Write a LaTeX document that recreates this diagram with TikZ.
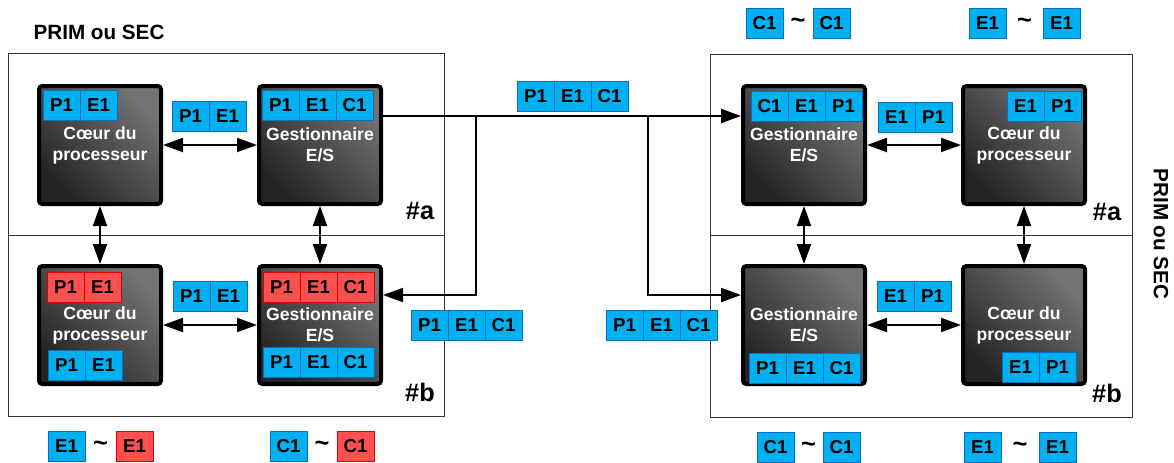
\documentclass[tikz,border=0pt]{standalone}
\usepackage{fontspec}
\setmainfont{Liberation Sans}
\usetikzlibrary{arrows.meta,positioning,calc}
\definecolor{cellblue}{HTML}{00B0F0}
\definecolor{cellblueline}{HTML}{0B6FBF}
\definecolor{cellred}{HTML}{FF5050}
\definecolor{cellredline}{HTML}{E00000}
% a row of adjacent cells: name, style, left x, centre y, labels
\newcommand{\cellrow}[5]{%
  \foreach \lbl [count=\i] in {#5}
    \node[#2] (#1-\i) at ({#3+37*\i-18.5},#4) {\lbl};}

\begin{document}
\begin{tikzpicture}[
    x=0.75pt, y=-0.75pt,
    panel/.style={draw=black!80, line width=0.75pt},
    unit/.style={rectangle, draw=black, line width=3pt, rounded corners=2.5pt,
                 minimum width=91.5pt, minimum height=88.5pt,
                 left color=black!86, right color=black!55, shading angle=135,
                 text=white, align=center,
                 font=\bfseries\fontsize{13.2}{15.75}\selectfont},
    cell/.style={rectangle, draw=cellblueline, fill=cellblue, line width=0.75pt,
                 minimum width=27.75pt, minimum height=22.5pt, inner sep=0pt,
                 font=\bfseries\fontsize{14}{14}\selectfont},
    redcell/.style={cell, draw=cellredline, fill=cellred},
    sim/.style={font=\bfseries\fontsize{19}{19}\selectfont},
    hashlbl/.style={font=\bfseries\fontsize{19}{19}\selectfont},
    title/.style={font=\bfseries\fontsize{15.5}{15.5}\selectfont},
    link/.style={line width=1.5pt, -{Triangle[length=15pt,width=10.5pt]}},
    link2/.style={line width=1.5pt, {Triangle[length=15pt,width=10.5pt]}-{Triangle[length=15pt,width=10.5pt]}}
  ]
  \useasboundingbox (0,0) rectangle (1174,462);

  %% Panels
  \draw[panel] (8,53) rectangle (444,235);
  \draw[panel] (8,235) rectangle (444,416);
  \draw[panel] (710,54) rectangle (1132,235);
  \draw[panel] (710,235) rectangle (1132,417);

  \node[title] (ltitle) at (99,32) {PRIM ou SEC};
  \node[title, rotate=-90] (rtitle) at (1161,234) {PRIM ou SEC};

  \node[hashlbl] (lhasha) at (420,211) {\#a};
  \node[hashlbl] (lhashb) at (420,392) {\#b};
  \node[hashlbl] (rhasha) at (1107,212) {\#a};
  \node[hashlbl] (rhashb) at (1107,393) {\#b};

  %% Units, left side
  \node[unit] (lca) at (100,145) {Cœur du\\processeur};
  \node[unit] (lga) at (320,145) {Gestionnaire\\E/S};
  \node[unit] (lcb) at (100,325) {Cœur du\\processeur};
  \node[unit] (lgb) at (320,325) {Gestionnaire\\E/S};

  %% Units, right side
  \node[unit] (rga) at (804,145) {Gestionnaire\\E/S};
  \node[unit] (rca) at (1024,145) {Cœur du\\processeur};
  \node[unit] (rgb) at (804,325) {Gestionnaire\\E/S};
  \node[unit] (rcb) at (1024,325) {Cœur du\\processeur};

  %% Links inside the panels
  \draw[link2] (lca) -- (lga);
  \draw[link2] (lcb) -- (lgb);
  \draw[link2] (lca) -- (lcb);
  \draw[link2] (lga) -- (lgb);
  \draw[link2] (rga) -- (rca);
  \draw[link2] (rgb) -- (rcb);
  \draw[link2] (rga) -- (rgb);
  \draw[link2] (rca) -- (rcb);

  %% Links between the two sides
  \coordinate (ja) at (476,116);
  \coordinate (jb) at (648,116);
  \draw[link] ([yshift=21.75pt]lga.east) -- ([yshift=21.75pt]rga.west);
  \draw[link] (ja) |- ([yshift=22.5pt]lgb.east);
  \draw[link] (jb) |- ([yshift=22.5pt]rgb.west);

  %% Cells, left side
  \cellrow{lcat}{cell}{43}{105}{P1,E1}
  \cellrow{lgat}{cell}{262}{105}{P1,E1,C1}
  \cellrow{lmat}{cell}{172}{116.5}{P1,E1}
  \cellrow{lcbt}{redcell}{47}{287}{P1,E1}
  \cellrow{lcbs}{cell}{48}{365.5}{P1,E1}
  \cellrow{lgbt}{redcell}{263}{287}{P1,E1,C1}
  \cellrow{lgbs}{cell}{263}{362}{P1,E1,C1}
  \cellrow{lmbt}{cell}{173}{296}{P1,E1}

  %% Cells, middle
  \cellrow{mtop}{cell}{517}{96.5}{P1,E1,C1}
  \cellrow{mlft}{cell}{411}{325.5}{P1,E1,C1}
  \cellrow{mrgt}{cell}{606}{325.5}{P1,E1,C1}

  %% Cells, right side
  \cellrow{rgat}{cell}{751}{106}{C1,E1,P1}
  \cellrow{rmat}{cell}{878}{117}{E1,P1}
  \cellrow{rcat}{cell}{1007}{106}{E1,P1}
  \cellrow{rmbt}{cell}{877}{296.5}{E1,P1}
  \cellrow{rgbs}{cell}{749}{368}{P1,E1,C1}
  \cellrow{rcbs}{cell}{1002}{367}{E1,P1}

  %% Equivalences
  \cellrow{eqla}{cell}{48}{446}{E1}
  \cellrow{eqlb}{redcell}{116}{446}{E1}
  \node[sim] at ($(eqla-1)!0.5!(eqlb-1)$) {\textasciitilde};
  \cellrow{eqlc}{cell}{270}{446}{C1}
  \cellrow{eqld}{redcell}{337}{446}{C1}
  \node[sim] at ($(eqlc-1)!0.5!(eqld-1)$) {\textasciitilde};

  \cellrow{eqra}{cell}{746}{23.5}{C1}
  \cellrow{eqrb}{cell}{813}{23.5}{C1}
  \node[sim] at ($(eqra-1)!0.5!(eqrb-1)$) {\textasciitilde};
  \cellrow{eqrc}{cell}{969}{23.5}{E1}
  \cellrow{eqrd}{cell}{1043}{23.5}{E1}
  \node[sim] at ($(eqrc-1)!0.5!(eqrd-1)$) {\textasciitilde};

  \cellrow{eqre}{cell}{757}{447}{C1}
  \cellrow{eqrf}{cell}{823}{447}{C1}
  \node[sim] at ($(eqre-1)!0.5!(eqrf-1)$) {\textasciitilde};
  \cellrow{eqrg}{cell}{964}{447}{E1}
  \cellrow{eqrh}{cell}{1039}{447}{E1}
  \node[sim] at ($(eqrg-1)!0.5!(eqrh-1)$) {\textasciitilde};

\end{tikzpicture}
\end{document}
